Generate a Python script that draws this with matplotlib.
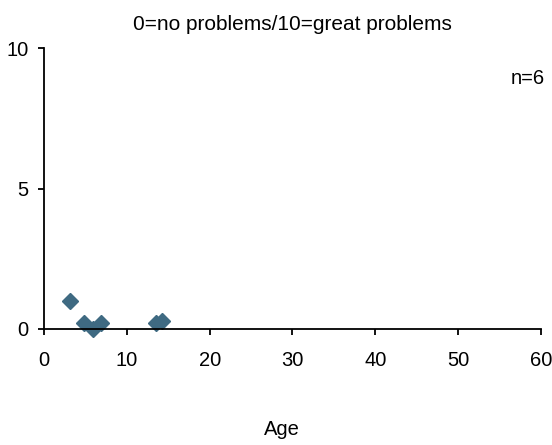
import matplotlib

matplotlib.use("Agg")
import matplotlib.pyplot as plt

age = [3.2, 4.8, 5.9, 6.9, 13.5, 14.2]
score = [1.0, 0.2, 0.0, 0.2, 0.2, 0.3]
x_ticks = [0, 10, 20, 30, 40, 50, 60]
y_ticks = [0, 5, 10]

plt.rcParams["font.family"] = ["Liberation Sans", "DejaVu Sans"]

fig = plt.figure(figsize=(5.52, 4.45), dpi=100)
ax = fig.add_axes([0.0797, 0.2607, 0.9003, 0.6313])
ax.plot(age, score, linestyle="none", marker="D", markersize=8.5, color="#3f6a82", clip_on=False)

ax.set_xlim(0, 60)
ax.set_ylim(0, 10)
ax.set_xticks(x_ticks)
ax.set_yticks(y_ticks)
ax.spines["top"].set_visible(False)
ax.spines["right"].set_visible(False)
ax.spines["left"].set_linewidth(1.3)
ax.spines["bottom"].set_linewidth(1.3)
ax.tick_params(direction="out", length=4, width=1.3, labelsize=14.5)
ax.tick_params(axis="x", pad=12)
ax.tick_params(axis="y", pad=7)

ax.set_title("0=no problems/10=great problems", fontsize=15, pad=13)
ax.text(1.007, 0.893, "n=6", transform=ax.transAxes, ha="right", va="center", fontsize=14.5)
fig.text(0.511, 0.0225, "Age", ha="center", va="baseline", fontsize=14.5)

fig.savefig("out.png")
